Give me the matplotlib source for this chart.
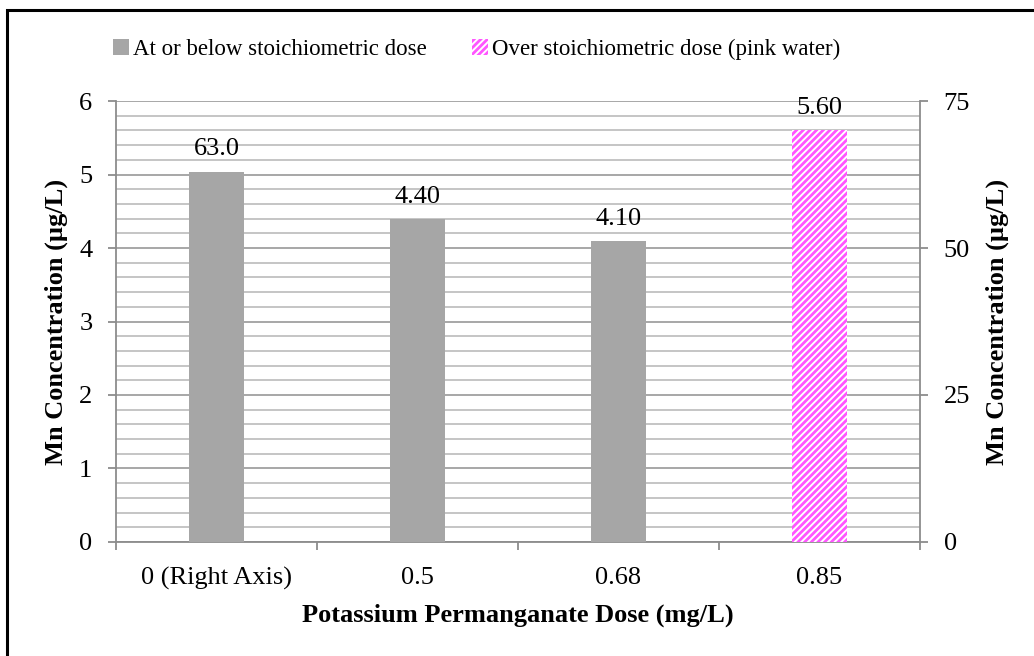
import matplotlib
matplotlib.use("Agg")
import matplotlib.pyplot as plt
from matplotlib.patches import Patch, Rectangle
from matplotlib.ticker import MultipleLocator

plt.rcParams["font.family"] = ["Liberation Serif", "DejaVu Serif"]
plt.rcParams["hatch.linewidth"] = 2.0

# dose categories and Mn concentrations
doses = ["0 (Right Axis)", "0.5", "0.68", "0.85"]
mn_right = [63.0]            # first bar, read on the right axis
mn_left = [4.40, 4.10]       # at or below stoichiometric dose
mn_over = [5.60]             # over stoichiometric dose (pink water)

grey = "#a6a6a6"
pink = "#ff55ff"
axis_grey = "#8c8c8c"
fs = 19

fig = plt.figure(figsize=(10.34, 6.56), dpi=100)
ax = fig.add_axes([0.1122, 0.1738, 0.7775, 0.6722])
ax2 = ax.twinx()

x = list(range(len(doses)))
w = 0.27

ax2.bar(x[0], mn_right[0], width=w, color=grey, zorder=3)
ax.bar(x[1:3], mn_left, width=w, color=grey, zorder=3)
ax.bar(x[3], mn_over[0], width=w, color="white", edgecolor=pink,
       hatch="/////", linewidth=0, zorder=3)

# value labels
ax2.annotate(f"{mn_right[0]:.1f}", (x[0], mn_right[0]), xytext=(0, 8),
             textcoords="offset points", ha="center", va="bottom", fontsize=fs)
for xi, v in zip(x[1:3], mn_left):
    ax.annotate(f"{v:.2f}", (xi, v), xytext=(0, 8), textcoords="offset points",
                ha="center", va="bottom", fontsize=fs, zorder=5)
ax.annotate(f"{mn_over[0]:.2f}", (x[3], mn_over[0]), xytext=(0, 8),
            textcoords="offset points", ha="center", va="bottom", fontsize=fs,
            zorder=5)

ax.set_xlim(-0.5, 3.5)
ax.set_ylim(0, 6)
ax2.set_ylim(0, 75)

# gridlines: light every 0.2, darker on whole units
ax.yaxis.set_major_locator(MultipleLocator(1))
ax.yaxis.set_minor_locator(MultipleLocator(0.2))
ax.grid(which="minor", axis="y", color="#c0c0c0", linewidth=1.3, zorder=0)
ax.grid(which="major", axis="y", color="#a0a0a0", linewidth=1.3, zorder=0)
ax.set_axisbelow(True)
ax2.yaxis.set_major_locator(MultipleLocator(25))

# category boundaries carry the ticks, labels sit in the middle
ax.set_xticks([-0.5, 0.5, 1.5, 2.5, 3.5])
ax.set_xticklabels([])
ax.set_xticks(x, minor=True)
ax.set_xticklabels(doses, minor=True)
ax.tick_params(axis="x", which="major", direction="out", length=6,
               color=axis_grey, width=1.3)
ax.tick_params(axis="x", which="minor", length=0, labelsize=fs, pad=18)
ax.tick_params(axis="y", which="major", direction="out", length=6,
               color=axis_grey, width=1.3, labelsize=fs, pad=11)
ax.tick_params(axis="y", which="minor", length=0)
ax2.tick_params(axis="y", direction="out", length=6, color=axis_grey,
                width=1.3, labelsize=fs, pad=11)

for a in (ax, ax2):
    a.spines["top"].set_visible(False)
    for s in ("left", "right", "bottom"):
        a.spines[s].set_color(axis_grey)
        a.spines[s].set_linewidth(1.3)
ax.spines["right"].set_visible(False)
ax2.spines["left"].set_visible(False)
ax2.spines["bottom"].set_visible(False)

ax.set_ylabel("Mn Concentration (µg/L)", fontsize=fs, fontweight="bold",
              labelpad=8)
ax2.set_ylabel("Mn Concentration (µg/L)", fontsize=fs, fontweight="bold",
               labelpad=11)
ax.set_xlabel("Potassium Permanganate Dose (mg/L)", fontsize=fs,
              fontweight="bold", labelpad=10)

handles = [Patch(facecolor=grey, edgecolor="none"),
           Patch(facecolor="white", edgecolor=pink, hatch="/////", linewidth=0)]
fig.legend(handles, ["At or below stoichiometric dose",
                     "Over stoichiometric dose (pink water)"],
           loc="center", bbox_to_anchor=(0.461, 0.925), ncol=2, frameon=False,
           fontsize=16.5, handlelength=0.7, handleheight=0.7,
           handletextpad=0.2, columnspacing=1.95)

# outer frame
fig.add_artist(Rectangle((7 / 1034, -0.1), 1.2, 1 - 10 / 656 + 0.1,
                         transform=fig.transFigure, fill=False,
                         edgecolor="black", linewidth=2.2))

fig.savefig("out.png", dpi=100)
